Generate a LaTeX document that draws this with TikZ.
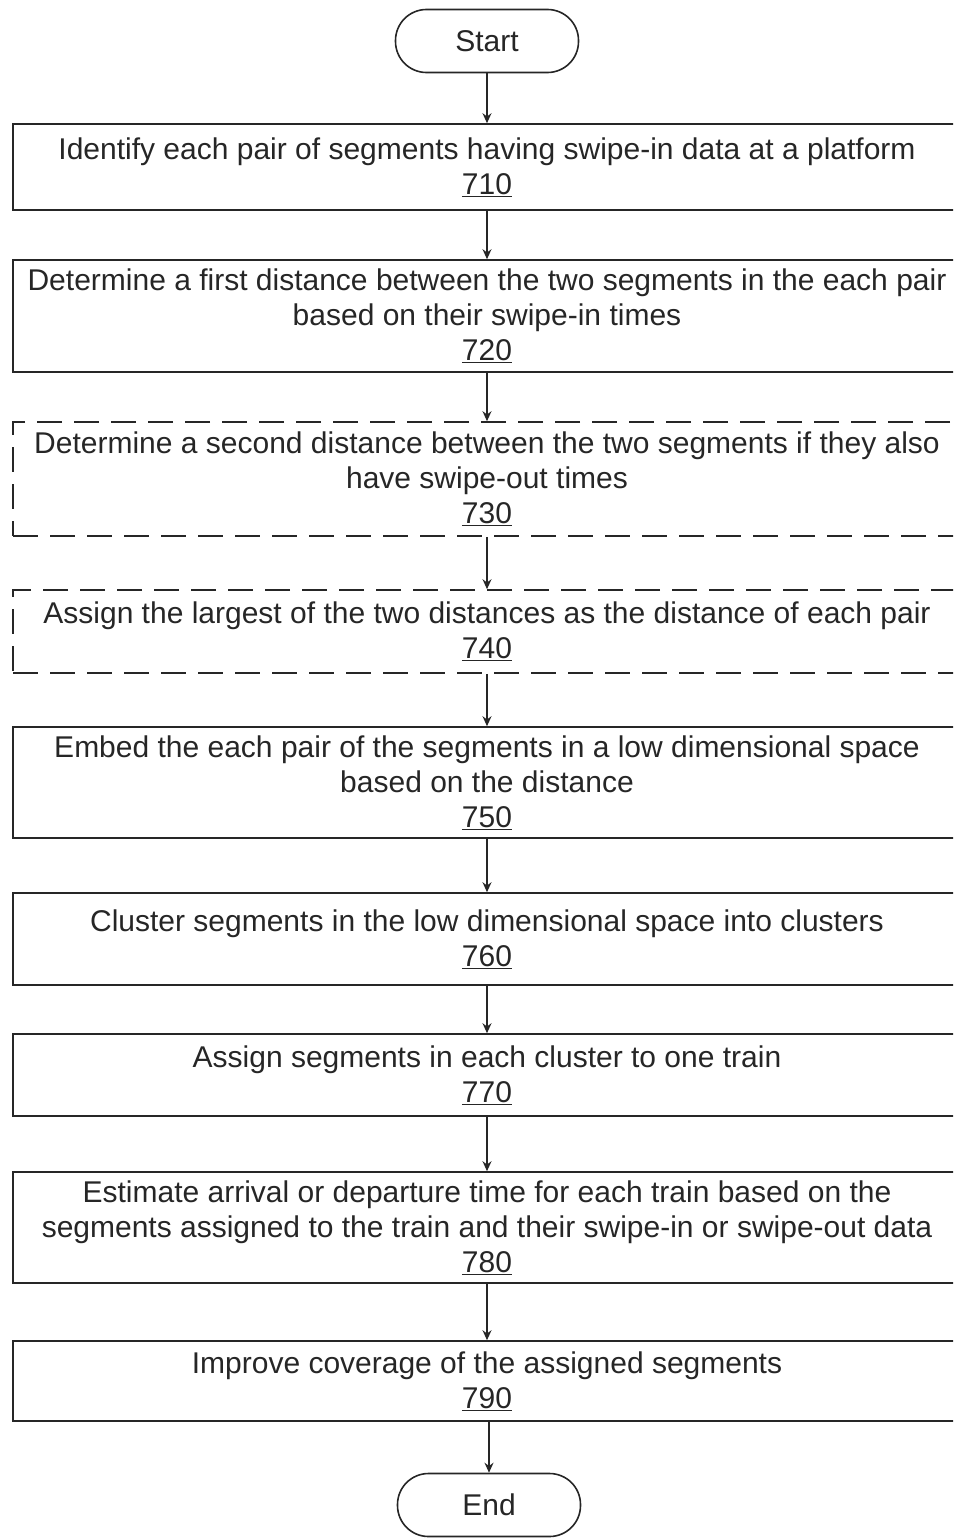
\documentclass[tikz,border=0pt]{standalone}
\usepackage{fontspec}
\setmainfont{Liberation Sans}
\usetikzlibrary{arrows.meta}
\begin{document}
\begin{tikzpicture}[x=1pt,y=-1pt,
  every node/.style={font=\fontsize{30}{35}\selectfont, text=black!85},
  stepbox/.style={draw=black!85, line width=1.6pt, rectangle, minimum width=948pt,
    align=center, inner sep=0pt},
  optbox/.style={stepbox, dash pattern=on 25pt off 12pt},
  term/.style={draw=black!85, line width=1.6pt, rectangle, rounded corners=31pt,
    minimum width=183pt, minimum height=63pt, inner sep=0pt},
  arr/.style={draw=black!85, line width=1.4pt, -{Stealth[length=10pt,width=9pt]}}
]
\useasboundingbox (0,0) rectangle (953,1539);
\clip (0,0) rectangle (953,1539);

\node[term] (start) at (487,41) {Start};

\node[stepbox, minimum height=86pt] (s710) at (487,167)
  {Identify each pair of segments having swipe-in data at a platform\\ \underline{710}};
\node[stepbox, minimum height=112pt] (s720) at (487,316)
  {Determine a first distance between the two segments in the each pair\\
   based on their swipe-in times\\ \underline{720}};
\node[optbox, minimum height=114pt] (s730) at (487,479)
  {Determine a second distance between the two segments if they also\\
   have swipe-out times\\ \underline{730}};
\node[optbox, minimum height=83pt] (s740) at (487,631.5)
  {Assign the largest of the two distances as the distance of each pair\\ \underline{740}};
\node[stepbox, minimum height=111pt] (s750) at (487,782.5)
  {Embed the each pair of the segments in a low dimensional space\\
   based on the distance\\ \underline{750}};
\node[stepbox, minimum height=92pt] (s760) at (487,939)
  {Cluster segments in the low dimensional space into clusters\\ \underline{760}};
\node[stepbox, minimum height=82pt] (s770) at (487,1075)
  {Assign segments in each cluster to one train\\ \underline{770}};
\node[stepbox, minimum height=111pt] (s780) at (487,1227.5)
  {Estimate arrival or departure time for each train based on the\\
   segments assigned to the train and their swipe-in or swipe-out data\\ \underline{780}};
\node[stepbox, minimum height=80pt] (s790) at (487,1381)
  {Improve coverage of the assigned segments\\ \underline{790}};

\node[term] (end) at (489,1505) {End};

\draw[arr] (start) -- (s710);
\draw[arr] (s710) -- (s720);
\draw[arr] (s720) -- (s730);
\draw[arr] (s730) -- (s740);
\draw[arr] (s740) -- (s750);
\draw[arr] (s750) -- (s760);
\draw[arr] (s760) -- (s770);
\draw[arr] (s770) -- (s780);
\draw[arr] (s780) -- (s790);
\draw[arr] (s790.south -| end.north) -- (end);
\end{tikzpicture}
\end{document}
